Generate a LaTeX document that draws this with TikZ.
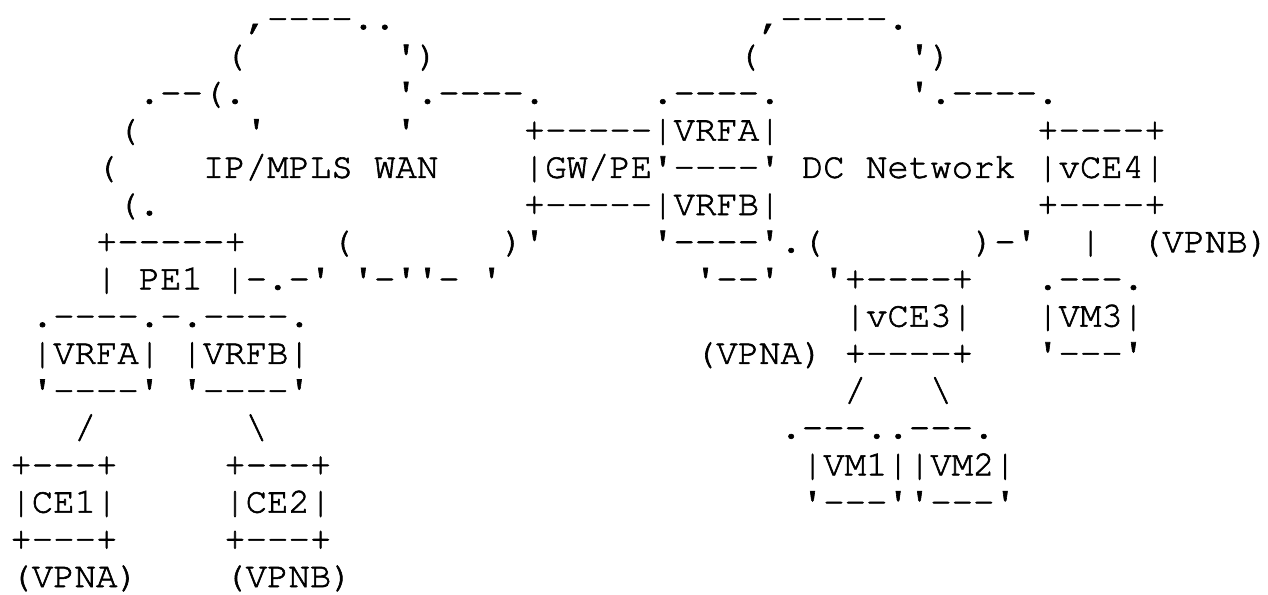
\documentclass[tikz,border=0pt]{standalone}
\usepackage[T1]{fontenc}
\usepackage{courier}
\usepackage{tikz}
\tikzset{every picture/.style={x=16.0425pt, y=-27.9pt}}
\newcommand\ap{\textquotesingle}
\newcommand\bsl{\textbackslash}
\newcommand\dashes[1]{\foreach \k in {1,...,#1}{-}}
% slightly heavier glyphs, as on screen
\newcommand\inked{\special{pdf:literal direct 2 Tr 0.45 w}}

\begin{document}
\begin{tikzpicture}[asc/.style={anchor=base west, inner sep=0pt, outer sep=0pt,
    font=\fontsize{26.76}{30}\selectfont\ttfamily\inked}]
  \useasboundingbox (-0.486,-0.78) rectangle (58.794,15.188);

  % WAN cloud
  \node[asc] (wanA) at (11,0) {,\dashes{4}..};
  \node[asc] (wanB) at (10,1) {(};
  \node[asc] (wanC) at (18,1) {\ap)};
  \node[asc] (wanD) at (6,2) {.\dashes{2}(.};
  \node[asc] (wanE) at (18,2) {\ap.\dashes{4}.};
  \node[asc] (wanF) at (5,3) {(};
  \node[asc] (wanG) at (11,3) {\ap};
  \node[asc] (wanH) at (18,3) {\ap};
  \node[asc] (wanI) at (4,4) {(};
  \node[asc] (wan) at (9,4) {IP/MPLS WAN};
  \node[asc] (wanJ) at (5,5) {(.};
  \node[asc] (wanK) at (15,6) {(};
  \node[asc] (wanL) at (23,6) {)\ap};
  \node[asc] (wanM) at (11,7) {-.-\ap};
  \node[asc] (wanN) at (16,7) {\ap-\ap\ap-};
  \node[asc] (wanO) at (22,7) {\ap};

  % DC cloud
  \node[asc] (dcA) at (35,0) {,\dashes{5}.};
  \node[asc] (dcB) at (34,1) {(};
  \node[asc] (dcC) at (42,1) {\ap)};
  \node[asc] (dcD) at (42,2) {\ap.\dashes{4}.};
  \node[asc] (dc) at (37,4) {DC Network};
  \node[asc] (dcE) at (36,6) {.(};
  \node[asc] (dcF) at (45,6) {)-\ap};
  \node[asc] (dcG) at (32,7) {\ap\dashes{2}\ap};
  \node[asc] (dcH) at (38,7) {\ap};

  % GW/PE with its VRFs
  \node[asc] (vrfaTop) at (30,2) {.\dashes{4}.};
  \node[asc] (gwTop) at (24,3) {+\dashes{5}|VRFA|};
  \node[asc] (gw) at (24,4) {|GW/PE\ap\dashes{4}\ap};
  \node[asc] (gwBot) at (24,5) {+\dashes{5}|VRFB|};
  \node[asc] (vrfbBot) at (30,6) {\ap\dashes{4}\ap};

  % PE1 with its VRFs and CEs
  \node[asc] (pe1Top) at (4,6) {+\dashes{5}+};
  \node[asc] (pe1) at (4,7) {| PE1 |};
  \node[asc] (vrfTop) at (1,8) {.\dashes{4}.-.\dashes{4}.};
  \node[asc] (vrfa) at (1,9) {|VRFA|};
  \node[asc] (vrfb) at (8,9) {|VRFB|};
  \node[asc] (vrfaBot) at (1,10) {\ap\dashes{4}\ap};
  \node[asc] (vrfbBot2) at (8,10) {\ap\dashes{4}\ap};
  \node[asc] (ce1Link) at (3,11) {/};
  \node[asc] (ce2Link) at (11,11) {\bsl};
  \node[asc] (ce1Top) at (0,12) {+\dashes{3}+};
  \node[asc] (ce2Top) at (10,12) {+\dashes{3}+};
  \node[asc] (ce1) at (0,13) {|CE1|};
  \node[asc] (ce2) at (10,13) {|CE2|};
  \node[asc] (ce1Bot) at (0,14) {+\dashes{3}+};
  \node[asc] (ce2Bot) at (10,14) {+\dashes{3}+};
  \node[asc] (vpnaL) at (0,15) {(VPNA)};
  \node[asc] (vpnbL) at (10,15) {(VPNB)};

  % vCE4 and VM3
  \node[asc] (vce4Top) at (48,3) {+\dashes{4}+};
  \node[asc] (vce4) at (48,4) {|vCE4|};
  \node[asc] (vce4Bot) at (48,5) {+\dashes{4}+};
  \node[asc] (vm3Link) at (50,6) {|};
  \node[asc] (vpnbR) at (52.85,6) {(VPNB)};
  \node[asc] (vm3Top) at (48,7) {.\dashes{3}.};
  \node[asc] (vm3) at (48,8) {|VM3|};
  \node[asc] (vm3Bot) at (48,9) {\ap\dashes{3}\ap};

  % vCE3 with VM1 and VM2
  \node[asc] (vce3Top) at (39,7) {+\dashes{4}+};
  \node[asc] (vce3) at (39,8) {|vCE3|};
  \node[asc] (vpnaR) at (32,9) {(VPNA)};
  \node[asc] (vce3Bot) at (39,9) {+\dashes{4}+};
  \node[asc] (vm1Link) at (39,10) {/};
  \node[asc] (vm2Link) at (43,10) {\bsl};
  \node[asc] (vmTop) at (36,11) {.\dashes{3}..\dashes{3}.};
  \node[asc] (vm12) at (37,12) {|VM1||VM2|};
  \node[asc] (vmBot) at (37,13) {\ap\dashes{3}\ap\ap\dashes{3}\ap};
\end{tikzpicture}
\end{document}
